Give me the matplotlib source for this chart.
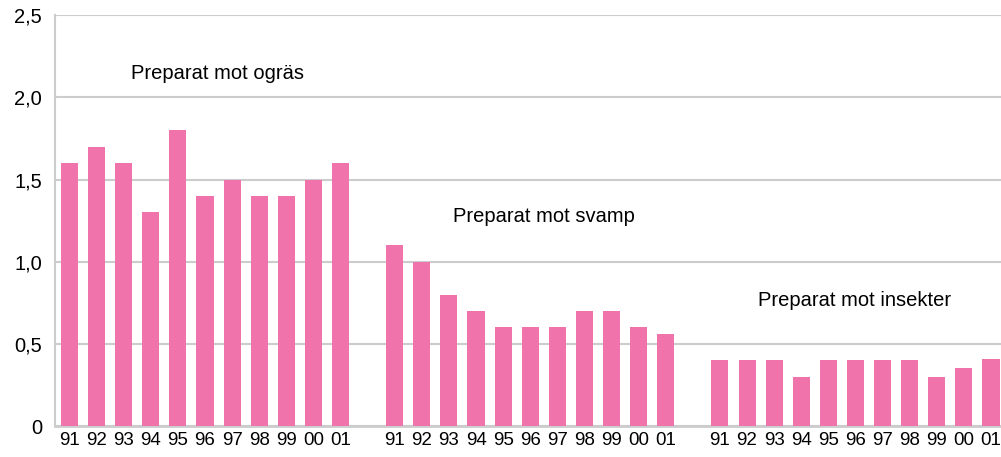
import matplotlib

matplotlib.use('Agg')
import matplotlib.pyplot as plt

# Data (ton aktiv substans per hektar, läst från bilden)
years = ["91", "92", "93", "94", "95", "96", "97", "98", "99", "00", "01"]
ogras = [1.6, 1.7, 1.6, 1.3, 1.8, 1.4, 1.5, 1.4, 1.4, 1.5, 1.6]
svamp = [1.1, 1.0, 0.8, 0.7, 0.6, 0.6, 0.6, 0.7, 0.7, 0.6, 0.56]
insekter = [0.4, 0.4, 0.4, 0.3, 0.4, 0.4, 0.4, 0.4, 0.3, 0.35, 0.41]
group_names = ["Preparat mot ogräs", "Preparat mot svamp", "Preparat mot insekter"]
y_ticks = [0, 0.5, 1.0, 1.5, 2.0, 2.5]
y_labels = ["0", "0,5", "1,0", "1,5", "2,0", "2,5"]

plt.rcParams['font.family'] = ['Liberation Sans', 'DejaVu Sans']

fig = plt.figure(figsize=(10.01, 4.57), dpi=100)
ax = fig.add_axes([0.0549, 0.0678, 0.9451, 0.899])

pink = "#F073AB"
grid = "#CCCCCC"

# En tom plats mellan grupperna
positions = []
labels = []
heights = []
for g, series in enumerate([ogras, svamp, insekter]):
    start = g * (len(years) + 1)
    for i, v in enumerate(series):
        positions.append(start + i)
        labels.append(years[i])
        heights.append(v)

ax.bar(positions, heights, width=0.63, color=pink, zorder=3)

ax.set_xlim(-0.535, 34.37)
ax.set_ylim(0, 2.5)
ax.set_xticks(positions)
ax.set_xticklabels(labels, fontsize=13.5)
ax.set_yticks(y_ticks)
ax.set_yticklabels(y_labels, fontsize=14.5)
ax.tick_params(axis='both', length=0)
ax.tick_params(axis='y', pad=9.4)
ax.tick_params(axis='x', pad=4)

ax.grid(axis='y', color=grid, linewidth=1.5, zorder=0)
ax.set_axisbelow(True)
for side in ["top", "right"]:
    ax.spines[side].set_visible(False)
ax.spines["left"].set_color(grid)
ax.spines["left"].set_linewidth(1.5)
ax.spines["bottom"].set_color(grid)
ax.spines["bottom"].set_linewidth(2)

# Grupprubriker
ax.text(2.27, 2.147, group_names[0], fontsize=14.5, ha='left', va='center')
ax.text(14.15, 1.277, group_names[1], fontsize=14.5, ha='left', va='center')
ax.text(25.4, 0.766, group_names[2], fontsize=14.5, ha='left', va='center')

plt.savefig("out.png", dpi=100)
